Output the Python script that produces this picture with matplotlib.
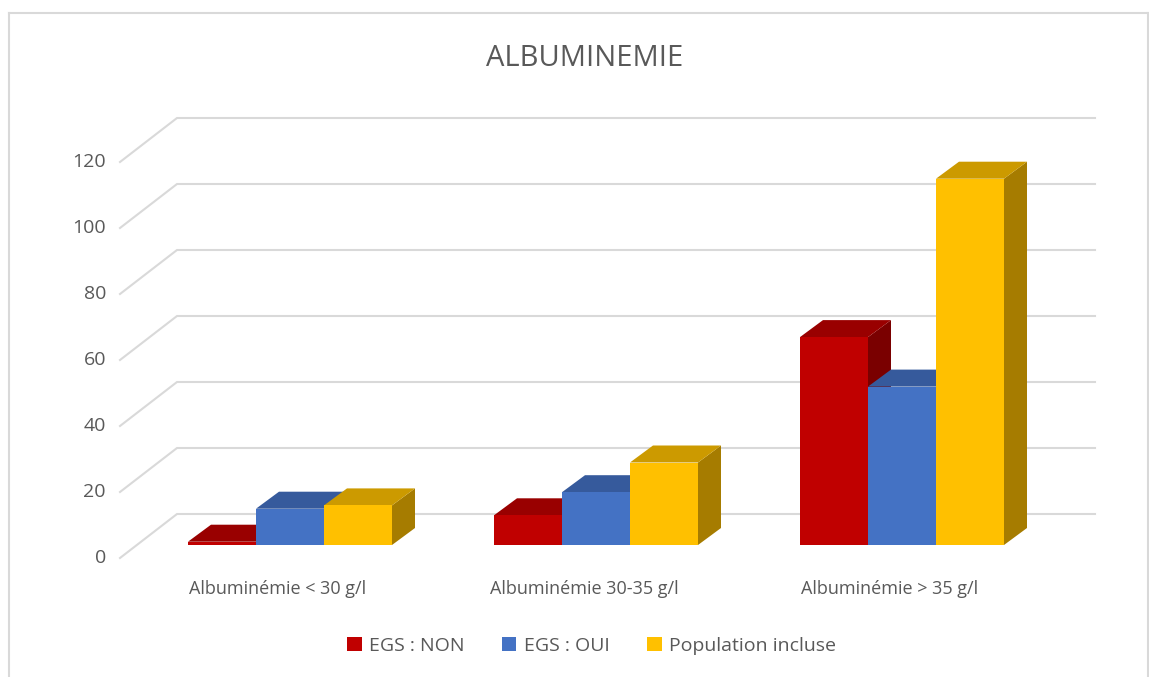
"""Albuminemie chart drawn as fake 3D clustered columns."""

import matplotlib
matplotlib.use("Agg")
import matplotlib.pyplot as plt
from matplotlib.patches import Polygon, Rectangle

plt.rcParams["font.family"] = ["Open Sans", "DejaVu Sans"]

TITLE = "ALBUMINEMIE"
categories = ["Albuminémie < 30 g/l", "Albuminémie 30-35 g/l", "Albuminémie > 35 g/l"]
series_names = ["EGS : NON", "EGS : OUI", "Population incluse"]
egs_non = [1, 9, 63]
egs_oui = [11, 16, 48]
population = [12, 25, 111]
y_ticks = [0, 20, 40, 60, 80, 100, 120]

front_colors = ["#C00000", "#4472C4", "#FFC000"]
top_colors = ["#990000", "#365A9C", "#CC9A00"]
side_colors = ["#7A0000", "#2B4A80", "#A67C00"]

# scale of the axes in pixels
W, H = 1149, 677
PX_X = 306.0   # one category
PX_Y = 3.3     # one unit of value
X0_PX, Y0_PX = 290.0, 545.0

fig = plt.figure(figsize=(W / 100, H / 100), dpi=100)
ax = fig.add_axes([0, 0, 1, 1])
ax.set_xlim(-X0_PX / PX_X, (W - X0_PX) / PX_X)
ax.set_ylim(-(H - Y0_PX) / PX_Y, Y0_PX / PX_Y)
ax.axis("off")


def px_x(n):
    return n / PX_X


def px_y(n):
    return n / PX_Y


# outer frame of the chart area
frame = dict(color="#D9D9D9", lw=1.5, transform=ax.transAxes, clip_on=False)
ax.plot([9 / W, 9 / W], [0, 1 - 13 / H], **frame)
ax.plot([9 / W, 1 - 1 / W], [1 - 13 / H, 1 - 13 / H], **frame)
ax.plot([1 - 1 / W, 1 - 1 / W], [1 - 13 / H, 0], **frame)

# gridlines: one diagonal on the side wall, one straight on the back wall
left = -px_x(170)
back = -px_x(113)
right = px_x(805)
for v in y_ticks:
    y_front = v - px_y(13)
    y_back = v + px_y(31)
    ax.plot([left, back, right], [y_front, y_back, y_back], color="#D9D9D9", lw=1.5, zorder=1)
    ax.text(left - px_x(14), y_front, str(v), ha="right", va="center", fontsize=14, color="#595959")

# columns
bar_w = px_x(68)
dx, dy = px_x(23), px_y(17)
series = [egs_non, egs_oui, population]
for c in range(len(categories)):
    for s in reversed(range(len(series))):
        x = c + (s - 1.5) * bar_w
        v = series[s][c]
        z = 3 + c + s * 0.1
        ax.add_patch(Polygon([(x + bar_w, 0), (x + bar_w + dx, dy), (x + bar_w + dx, v + dy), (x + bar_w, v)],
                             facecolor=side_colors[s], edgecolor="none", zorder=z))
        ax.add_patch(Polygon([(x, v), (x + dx, v + dy), (x + bar_w + dx, v + dy), (x + bar_w, v)],
                             facecolor=top_colors[s], edgecolor="none", zorder=z))
        ax.add_patch(Rectangle((x, 0), bar_w, v, facecolor=front_colors[s], edgecolor="none", zorder=z + 0.05))
    ax.text(c - px_x(12), -px_y(44), categories[c], ha="center", va="center", fontsize=13, color="#595959")

ax.text(0.509, 1 - 59 / H, TITLE, transform=ax.transAxes, ha="center", va="center", fontsize=21, color="#595959")

handles = [Rectangle((0, 0), 1, 1, facecolor=col) for col in front_colors]
ax.legend(handles, series_names, loc="center", bbox_to_anchor=(0.515, 1 - 646 / H), ncol=3, frameon=False,
          fontsize=14, labelcolor="#595959", handlelength=0.75, handleheight=0.75, handletextpad=0.4, columnspacing=1.9)

plt.savefig("out.png", dpi=100)
plt.close()
